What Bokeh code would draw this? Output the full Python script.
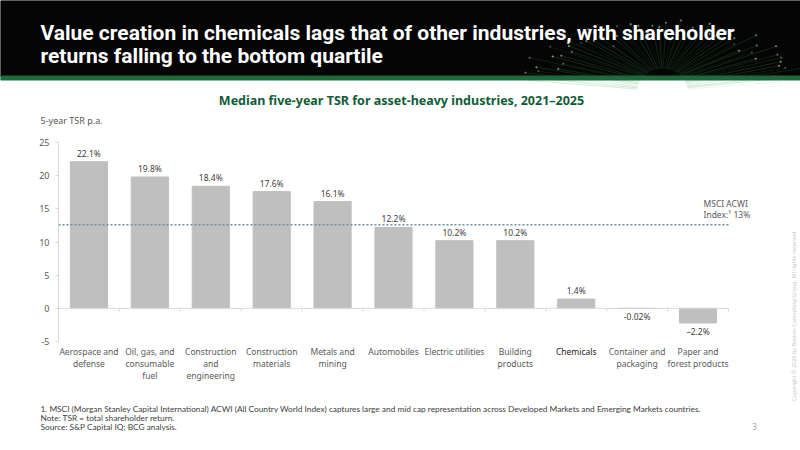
import math

from bokeh.plotting import figure
from bokeh.models import Range1d, FixedTicker
from bokeh.embed import file_html
from bokeh.resources import INLINE
from bokeh.core.properties import value

# ---- content -------------------------------------------------------------
headline = [
    "Value creation in chemicals lags that of other industries, with shareholder",
    "returns falling to the bottom quartile",
]
chart_title = "Median five-year TSR for asset-heavy industries, 2021\u20132025"
y_axis_title = "5-year TSR p.a."

industries = [
    "Aerospace and\ndefense",
    "Oil, gas, and\nconsumable\nfuel",
    "Construction\nand\nengineering",
    "Construction\nmaterials",
    "Metals and\nmining",
    "Automobiles",
    "Electric utilities",
    "Building\nproducts",
    "Chemicals",
    "Container and\npackaging",
    "Paper and\nforest products",
]
tsr = [22.1, 19.8, 18.4, 17.6, 16.1, 12.2, 10.2, 10.2, 1.4, -0.02, -2.2]
tsr_labels = ["22.1%", "19.8%", "18.4%", "17.6%", "16.1%", "12.2%",
              "10.2%", "10.2%", "1.4%", "-0.02%", "\u20132.2%"]
highlight = "Chemicals"

msci_acwi = 12.6
msci_label = ["MSCI ACWI", f"Index:\u00b9 {round(msci_acwi)}%"]

y_ticks = [-5, 0, 5, 10, 15, 20, 25]

footnotes = [
    "1. MSCI  (Morgan Stanley Capital International) ACWI (All Country World Index) captures large and mid cap "
    "representation across Developed Markets  and Emerging Markets countries.",
    "Note: TSR = total shareholder return.",
    "Source: S&P Capital IQ; BCG analysis.",
]
page_number = "3"
copyright_text = "Copyright \u00a9 2026 by Boston Consulting Group. All rights reserved."

# ---- styling --------------------------------------------------------------
BODY = "Noto Sans"
FONT = value(BODY)
BAR = "#bfbfbf"
AXIS = "#d9d9d9"
TXT = "#595959"
GREEN = "#0f5c36"

W, H = 800, 450
# pixel box of the value axes on the page
AX_L, AX_R = 58, 728      # x = 0 .. number of categories
AX_T, AX_B = 142, 341     # y = 25 .. -5

n = len(industries)
y_lo, y_hi = y_ticks[0], y_ticks[-1]
ppx = (AX_R - AX_L) / n
ppy = (AX_B - AX_T) / (y_hi - y_lo)

p = figure(width=W, height=H, toolbar_location=None, output_backend="svg",
           x_range=Range1d(-AX_L / ppx, n + (W - AX_R) / ppx),
           y_range=Range1d(y_lo - (H - AX_B) / ppy, y_hi + AX_T / ppy),
           x_axis_location=None, y_axis_location="left", min_border=0)
p.extra_x_ranges = {"px": Range1d(0, W)}
p.extra_y_ranges = {"px": Range1d(H, 0)}
p.grid.visible = False
p.outline_line_color = None
p.background_fill_color = "white"
p.border_fill_color = "white"
PX = dict(x_range_name="px", y_range_name="px")

# ---- header band ------------------------------------------------------------
p.quad(left=0, right=W, top=0, bottom=76, color="#040504", **PX)

# fibre-optic burst behind the headline
n_fib = 56
fx0, fy0 = 662, 94
xs0, ys0, xs1, ys1, alphas = [], [], [], [], []
for k in range(n_fib):
    a = math.radians(12 + 156 * k / (n_fib - 1))
    length = 50 + 16 * abs(math.sin(k * 1.7)) + 10 * abs(math.cos(k * 0.9))
    xs0.append(fx0 + 26 * math.cos(a))
    ys0.append(fy0 - 26 * math.sin(a))
    xs1.append(fx0 + length * 2.0 * math.cos(a))
    ys1.append(fy0 - length * math.sin(a))
    alphas.append(0.15 + 0.28 * abs(math.sin(k * 2.3)))
p.segment(x0=xs0, y0=ys0, x1=xs1, y1=ys1, line_color="#3f9a5a",
          line_alpha=alphas, line_width=0.6, **PX)
p.scatter(x=xs1, y=ys1, size=1.5, color="#bfe3c6", alpha=alphas, **PX)

p.quad(left=0, right=W, top=75.5, bottom=79.5, color="#1d6a3b", **PX)
p.text(x=[40, 40], y=[32, 55], text=headline, text_font=value("Roboto"),
       text_font_size="21px", text_font_style="bold", text_color="white",
       text_baseline="middle", text_align="left", **PX)

# ---- titles -------------------------------------------------------------------
p.text(x=[401], y=[100], text=[chart_title], text_font=FONT, text_font_size="12.5px",
       text_font_style="bold", text_color=GREEN, text_align="center",
       text_baseline="middle", **PX)
p.text(x=[40], y=[120], text=[y_axis_title], text_font=FONT, text_font_size="9px",
       text_color=TXT, text_align="left", text_baseline="middle", **PX)

# ---- value axis -----------------------------------------------------------------
yax = p.yaxis[0]
yax.fixed_location = 0
yax.ticker = FixedTicker(ticks=y_ticks)
yax.bounds = (y_lo, y_hi)
yax.major_label_overrides = {t: str(t) for t in y_ticks}
yax.axis_line_color = AXIS
yax.major_tick_line_color = AXIS
yax.major_tick_out = 3
yax.major_tick_in = 0
yax.minor_tick_line_color = None
yax.major_label_text_font = BODY
yax.major_label_text_font_size = "9px"
yax.major_label_text_color = TXT
yax.major_label_standoff = 6

# ---- bars ---------------------------------------------------------------------
xs = [i + 0.5 for i in range(n)]
p.vbar(x=xs, top=tsr, bottom=0, width=0.61, color=BAR)

# zero line with category-boundary ticks
p.segment(x0=[0], y0=[0], x1=[n], y1=[0], line_color=AXIS, line_width=1)
bounds = list(range(1, n + 1))
p.segment(x0=bounds, y0=[0] * n, x1=bounds, y1=[-3 / ppy] * n, line_color=AXIS,
          line_width=1)

# MSCI ACWI reference line
p.segment(x0=[0], y0=[msci_acwi], x1=[n], y1=[msci_acwi], line_color="#6a90a3",
          line_width=1.6, line_dash="2 2")
p.text(x=[AX_R - 25, AX_R - 25], y=[203, 214], text=msci_label, text_font=FONT,
       text_font_size="8.5px", text_color=TXT, text_align="left",
       text_baseline="middle", **PX)

# value labels
pos = [i for i, v in enumerate(tsr) if v >= 0]
neg = [i for i, v in enumerate(tsr) if v < 0]
p.text(x=[xs[i] for i in pos], y=[tsr[i] for i in pos], text=[tsr_labels[i] for i in pos],
       text_font=FONT, text_font_size="8.5px", text_color="#404040",
       text_align="center", text_baseline="bottom", y_offset=-3)
p.text(x=[xs[i] for i in neg], y=[tsr[i] for i in neg], text=[tsr_labels[i] for i in neg],
       text_font=FONT, text_font_size="8.5px", text_color="#404040",
       text_align="center", text_baseline="top", y_offset=3)

# category labels under the axis
p.text(x=xs, y=[y_lo] * n, text=industries, text_font=FONT, text_font_size="8.5px",
       text_color=["#1a1a1a" if c == highlight else TXT for c in industries],
       text_align="center", text_baseline="top", text_line_height=1.1, y_offset=4)

# ---- footer -------------------------------------------------------------------
p.text(x=[40] * len(footnotes), y=[408 + 9 * k for k in range(len(footnotes))],
       text=footnotes, text_font=value("Lato"), text_font_size="8.3px",
       text_color="#404040", text_align="left", text_baseline="middle", **PX)
p.text(x=[754], y=[426], text=[page_number], text_font=FONT, text_font_size="8px",
       text_color="#a6a6a6", text_align="center", text_baseline="middle", **PX)
p.text(x=[793], y=[315], text=[copyright_text], text_font=FONT, text_font_size="5.5px",
       text_color="#c8c8c8", text_align="center", text_baseline="middle",
       angle=math.pi / 2, **PX)

open("out.html", "w").write(file_html(p, INLINE))
